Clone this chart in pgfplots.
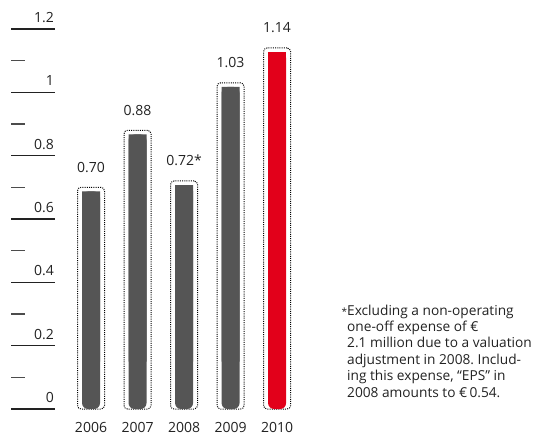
\documentclass[border=0pt]{standalone}
\usepackage{pgfplots}
\pgfplotsset{compat=1.18}
\usepackage{pgfplotstable}
\usepackage{fontspec}
\setmainfont{Open Sans}

\definecolor{bargray}{HTML}{555555}
\definecolor{barred}{HTML}{E2001A}
\definecolor{txt}{HTML}{222222}

% earnings per share, 2006-2010
\pgfplotstableread{
x v label
0 0.70 0.70
1 0.88 0.88
2 0.72 0.72*
3 1.03 1.03
4 1.14 1.14
}\eps

\pgfplotsset{
  chartbox/.style={
    scale only axis, width=250pt, height=380pt,
    at={(55pt,27pt)}, anchor=south west,
    xmin=-0.774, xmax=4.6, clip=false,
  },
}

\begin{document}
\frenchspacing
\begin{tikzpicture}
\begin{axis}[chartbox,
    ymin=0, ymax=1.2,
    axis line style={draw=none},
    tick pos=left,
    ytick={0,0.2,0.4,0.6,0.8,1,1.2},
    minor y tick num=1,
    tick align=outside,
    major tick length=44pt, minor tick length=14pt,
    every major tick/.append style={line width=1.3pt, color=txt},
    every minor tick/.append style={xshift=-30pt, line width=1.3pt, color=black!70},
    xtick={0,1,2,3,4},
    xticklabels={2006,2007,2008,2009,2010},
    xtick style={draw=none},
    /pgf/number format/assume math mode=true,
    yticklabel style={anchor=base east, inner sep=0pt, xshift=43pt, yshift=6.5pt,
      font=\fontsize{14}{16}\selectfont, color=txt},
    xticklabel style={anchor=base, inner sep=0pt, yshift=20pt,
      font=\fontsize{14}{16}\selectfont, color=txt},
  ]
  % dotted frames with the value labels
  \addplot[ybar, bar width=27pt, bar shift=0pt, fill=none, draw=black,
    line width=1pt, dash pattern=on 1pt off 1.2pt, rounded corners=3.5pt,
    nodes near coords, point meta=explicit symbolic,
    every node near coord/.append style={anchor=base, yshift=15pt, solid,
      font=\fontsize{14}{16}\selectfont, color=txt}]
    table[x=x, y=v, meta=label]{\eps};
  % bars (rounded bottoms)
  \addplot[ybar, bar width=18pt, bar shift=0pt, fill=bargray, draw=none,
    rounded corners=6pt, restrict x to domain=0:3]
    table[x=x, y expr=\thisrow{v}-0.013]{\eps};
  \addplot[ybar, bar width=18pt, bar shift=0pt, fill=barred, draw=none,
    rounded corners=6pt, restrict x to domain=4:4]
    table[x=x, y expr=\thisrow{v}-0.013]{\eps};
\end{axis}
% square tops over the rounded bars (axis shifted by 0.15)
\begin{axis}[chartbox, ymin=-0.15, ymax=1.05, hide axis]
  \addplot[ybar, bar width=18pt, bar shift=0pt, fill=bargray, draw=none,
    restrict x to domain=0:3]
    table[x=x, y expr=\thisrow{v}-0.163]{\eps};
  \addplot[ybar, bar width=18pt, bar shift=0pt, fill=barred, draw=none,
    restrict x to domain=4:4]
    table[x=x, y expr=\thisrow{v}-0.163]{\eps};
\end{axis}
\node[anchor=base west, align=left, inner sep=0pt, color=txt,
  font=\fontsize{13.7}{16.4}\selectfont] at (347pt,39pt)
  {\llap{\fontsize{10}{12}\selectfont *}Excluding a non-operating\\
   one-off expense of €\\
   2.1 million due to a valuation\\
   adjustment in 2008. Includ-\\
   ing this expense, “EPS” in\\
   2008 amounts to €\,0.54.};
\pgfresetboundingbox
\path[use as bounding box] (0,0) rectangle (537pt,436pt);
\end{tikzpicture}
\end{document}
